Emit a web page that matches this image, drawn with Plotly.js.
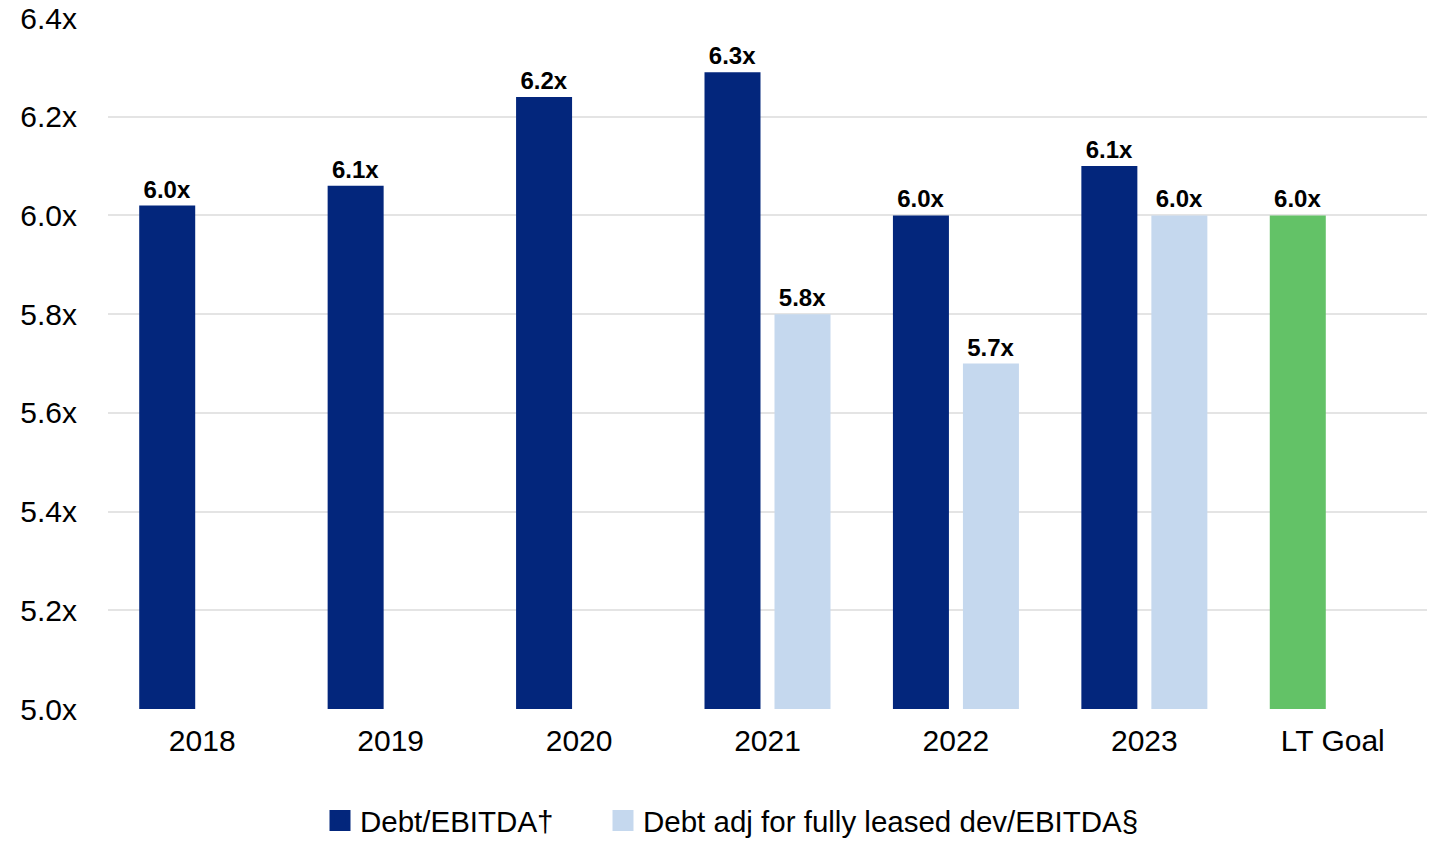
<!DOCTYPE html>
<html>
<head>
<meta charset="utf-8">
<script src="https://cdn.plot.ly/plotly-3.0.1.min.js"></script>
<style>html,body{margin:0;padding:0;background:#fff;}#chart{width:1431px;height:842px;}</style>
</head>
<body>
<div id="chart"></div>
<script>
var categories = ['2018', '2019', '2020', '2021', '2022', '2023', 'LT Goal'];
var debtEbitda = [6.02, 6.06, 6.24, 6.29, 6.0, 6.1, 6.0];
var debtEbitdaLabels = ['6.0x', '6.1x', '6.2x', '6.3x', '6.0x', '6.1x', '6.0x'];
var debtAdj = [null, null, null, 5.8, 5.7, 6.0, null];
var debtAdjLabels = ['', '', '', '5.8x', '5.7x', '6.0x', ''];
var seriesNames = ['Debt/EBITDA†', 'Debt adj for fully leased dev/EBITDA§'];
var yTickVals = [5.0, 5.2, 5.4, 5.6, 5.8, 6.0, 6.2, 6.4];
var yTickText = ['5.0x', '5.2x', '5.4x', '5.6x', '5.8x', '6.0x', '6.2x', '6.4x'];

var DARK = '#03267C', LIGHT = '#C5D8EE', GREEN = '#63C267';
var FONT = 'Arial, "Liberation Sans", sans-serif';

var darkColors = categories.map(function (c) { return c === 'LT Goal' ? GREEN : DARK; });

var traces = [
  {
    type: 'bar', x: categories, y: debtEbitda, name: seriesNames[0], showlegend: false,
    marker: {color: darkColors},
    text: debtEbitdaLabels.map(function (t) { return '<b>' + t + '</b>'; }),
    textposition: 'outside', cliponaxis: false,
    textfont: {family: FONT, size: 24, color: '#000'},
    hoverinfo: 'x+y'
  },
  {
    type: 'bar', x: categories, y: debtAdj, name: seriesNames[1], showlegend: false,
    marker: {color: LIGHT},
    text: debtAdjLabels.map(function (t) { return t ? '<b>' + t + '</b>' : ''; }),
    textposition: 'outside', cliponaxis: false,
    textfont: {family: FONT, size: 24, color: '#000'},
    hoverinfo: 'x+y'
  },
  {
    type: 'scatter', mode: 'markers', x: [null], y: [null], xaxis: 'x2', yaxis: 'y2',
    name: seriesNames[0], showlegend: true, legend: 'legend',
    marker: {symbol: 'square', size: 16, color: DARK, line: {color: DARK, width: 5}}
  },
  {
    type: 'scatter', mode: 'markers', x: [null], y: [null], xaxis: 'x2', yaxis: 'y2',
    name: seriesNames[1], showlegend: true, legend: 'legend2',
    marker: {symbol: 'square', size: 16, color: LIGHT, line: {color: LIGHT, width: 5}}
  }
];

var legendCommon = {
  orientation: 'h', xref: 'container', xanchor: 'left',
  yref: 'container', y: 0.056, yanchor: 'top',
  font: {family: FONT, size: 29.5, color: '#000'},
  bgcolor: 'rgba(0,0,0,0)'
};

var layout = {
  width: 1431, height: 842,
  margin: {l: 108, r: 4, t: 18, b: 133, pad: 0},
  paper_bgcolor: '#fff', plot_bgcolor: '#fff',
  font: {family: FONT, size: 30, color: '#000'},
  barmode: 'group', bargap: 0.257, bargroupgap: 0.2,
  xaxis: {
    type: 'category', showgrid: false, zeroline: false, showline: false, automargin: false,
    ticks: '', tickfont: {family: FONT, size: 30, color: '#000'},
    ticklabelstandoff: 11
  },
  yaxis: {
    range: [5.0, 6.4], tickmode: 'array', tickvals: yTickVals, ticktext: yTickText,
    showgrid: true, gridcolor: '#E4E4E4', gridwidth: 2, zeroline: false, showline: false,
    automargin: false,
    ticks: '', tickfont: {family: FONT, size: 30, color: '#000'},
    ticklabelstandoff: 30
  },
  xaxis2: {overlaying: 'x', visible: false, range: [0, 1]},
  yaxis2: {overlaying: 'y', visible: false, range: [0, 1]},
  showlegend: true,
  legend: Object.assign({}, legendCommon, {x: 320 / 1431}),
  legend2: Object.assign({}, legendCommon, {x: 603 / 1431})
};

Plotly.newPlot('chart', traces, layout, {displayModeBar: false, responsive: false});
</script>
</body>
</html>
